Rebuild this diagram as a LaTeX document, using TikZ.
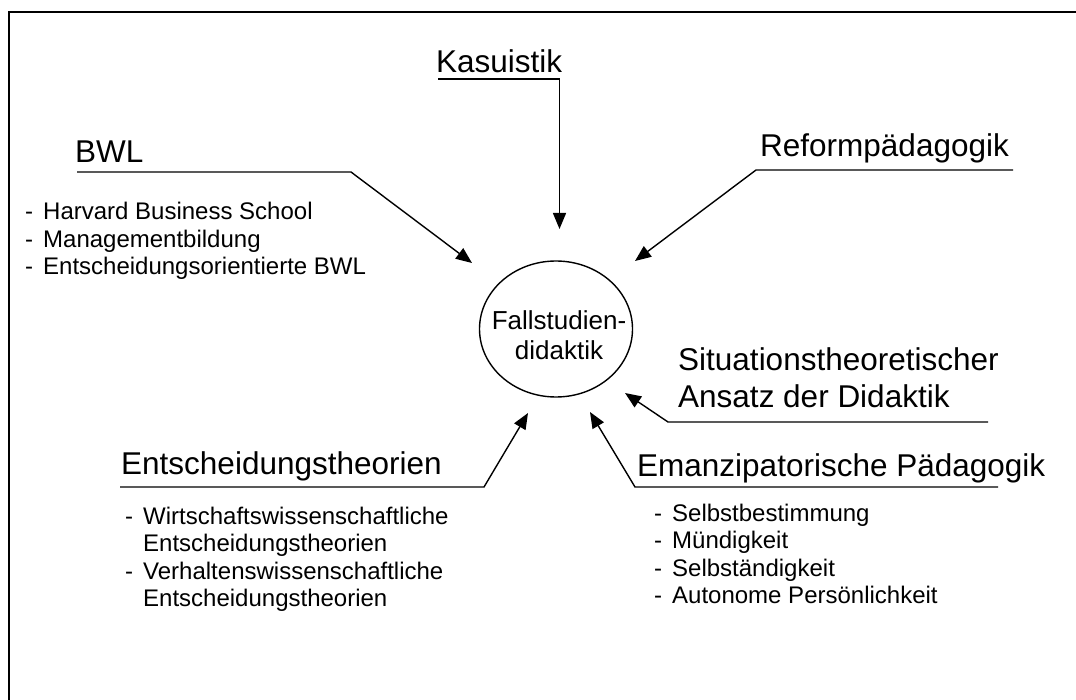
\documentclass[tikz,border=0pt]{standalone}
\usepackage{fontspec}
\setmainfont{Liberation Sans}
\usetikzlibrary{arrows.meta,shapes.geometric}

\newcommand{\gross}{\fontsize{31.5}{37}\selectfont}
\newcommand{\mittel}{\fontsize{26}{30}\selectfont}
\newcommand{\klein}{\fontsize{24}{27.5}\selectfont}

\begin{document}
\begin{tikzpicture}[x=1pt, y=-1pt, >={Triangle[length=16pt,width=13pt]}, line join=miter,
		titel/.style={anchor=base west, inner sep=0pt, font=\gross, align=left},
		liste/.style={anchor=base west, inner sep=0pt, font=\klein},
		pfeil/.style={->, line width=1.4pt}]
		
		\useasboundingbox (0,0) rectangle (1076,700);
		\clip (0,0) rectangle (1076,700);
		
		% frame, cut off at the right and at the bottom
		\draw[line width=2.2pt] (9,12) rectangle (1100,720);
		
		% centre
		\node[draw, ellipse, line width=1.4pt, minimum width=153pt, minimum height=136pt, inner sep=0pt] (fall) at (556,329) {};
		\node[anchor=base, inner sep=0pt, align=center, font=\mittel] (falltext) at (559,360) {Fallstudien-\\didaktik};
		
		% headings (multi-line: base = last line)
		\node[titel] (kasu) at (436,73) {Kasuistik};
		\node[titel] (bwl) at (75,163) {BWL};
		\node[titel] (reform) at (760,157) {Reformpädagogik};
		\node[titel] (situ) at (678,407) {Situationstheoretischer\\Ansatz der Didaktik};
		\node[titel] (emanz) at (637,476) {Emanzipatorische Pädagogik};
		\node[titel] (entsch) at (121,474) {Entscheidungstheorien};
		
		% lists
		\node[liste] (bwlliste) at (25,220) {\begin{tabular}[t]{@{}l@{\hspace{10pt}}l@{}}
				- & Harvard Business School\\
				- & Managementbildung\\
				- & Entscheidungsorientierte BWL
		\end{tabular}};
		\node[liste] (entschliste) at (125,524) {\begin{tabular}[t]{@{}l@{\hspace{10pt}}l@{}}
				- & Wirtschaftswissenschaftliche\\
				& Entscheidungstheorien\\
				- & Verhaltenswissenschaftliche\\
				& Entscheidungstheorien
		\end{tabular}};
		\node[liste] (emanzliste) at (654,521) {\begin{tabular}[t]{@{}l@{\hspace{10pt}}l@{}}
				- & Selbstbestimmung\\
				- & Mündigkeit\\
				- & Selbständigkeit\\
				- & Autonome Persönlichkeit
		\end{tabular}};
		
		% underlines and arrow tips
		\coordinate (kasu1) at (438,79);
		\coordinate (kasu2) at (559.5,79);
		\coordinate (kasuT) at (559.5,229);
		\coordinate (bwl1) at (77,172);
		\coordinate (bwl2) at (351,172);
		\coordinate (bwlT) at (472,263);
		\coordinate (reform1) at (1013,170);
		\coordinate (reform2) at (756,170);
		\coordinate (reformT) at (635,261);
		\coordinate (situ1) at (988,422);
		\coordinate (situ2) at (668,422);
		\coordinate (situT) at (625,393);
		\coordinate (emanz1) at (998,487);
		\coordinate (emanz2) at (635,487);
		\coordinate (emanzT) at (590,412);
		\coordinate (entsch1) at (120,487);
		\coordinate (entsch2) at (484,487);
		\coordinate (entschT) at (528,413);
		
		\draw[pfeil] (kasu1) -- (kasu2) -- (kasuT);
		\draw[pfeil] (bwl1) -- (bwl2) -- (bwlT);
		\draw[pfeil] (reform1) -- (reform2) -- (reformT);
		\draw[pfeil] (situ1) -- (situ2) -- (situT);
		\draw[pfeil] (emanz1) -- (emanz2) -- (emanzT);
		\draw[pfeil] (entsch1) -- (entsch2) -- (entschT);
		
	\end{tikzpicture}
\end{document}
